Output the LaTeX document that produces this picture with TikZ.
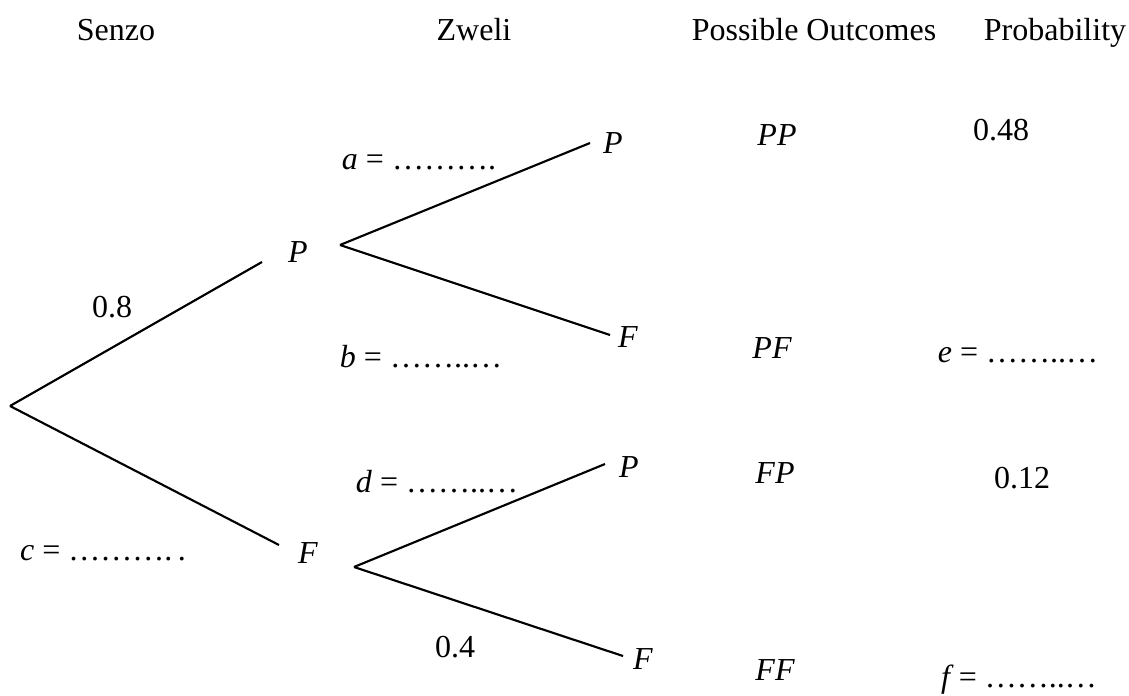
\documentclass[tikz,border=0pt]{standalone}
\usepackage{fontspec}
\setmainfont{Liberation Serif}
\usetikzlibrary{positioning}
\begin{document}
\begin{tikzpicture}[x=0.375pt, y=-0.375pt, font=\fontsize{12}{14}\selectfont,
    branch/.style={line width=0.8pt},
    lbl/.style={inner sep=0pt},
    head/.style={inner sep=0pt, anchor=base},
    itlbl/.style={inner sep=0pt, font=\fontsize{12}{14}\selectfont\itshape}]
  % canvas in pixels of the 1129 x 695 sheet, y grows downwards
  \useasboundingbox (0,0) rectangle (1129,695);
  % column headings
  \node[head] (hSenzo) at (116,41) {Senzo};
  \node[head] (hZweli) at (474,41) {Zweli};
  \node[head] (hOut) at (814,41) {Possible Outcomes};
  \node[head] (hProb) at (1055,41) {Probability};
  % first stage: Senzo
  \coordinate (root) at (10,406);
  \coordinate (sPin) at (262,262);
  \coordinate (sFin) at (279,545);
  \node[itlbl] (sP) at (298,252) {P};
  \node[itlbl] (sF) at (308,553) {F};
  \draw[branch] (root) -- (sPin);
  \draw[branch] (root) -- (sFin);
  \node[lbl] (pSP) at (112,307) {0.8};
  \node[lbl] (pSF) at (103,553) {\textit{c} = ……….\,.};
  % second stage: Zweli after P
  \coordinate (sPout) at (340,245);
  \coordinate (zPPin) at (590,143);
  \coordinate (zPFin) at (610,335);
  \node[itlbl] (zPP) at (613,143) {P};
  \node[itlbl] (zPF) at (628,337) {F};
  \draw[branch] (sPout) -- (zPPin);
  \draw[branch] (sPout) -- (zPFin);
  \node[lbl] (pPP) at (419,162) {\textit{a} = ……….};
  \node[lbl] (pPF) at (421,357) {\textit{b} = ……..…};
  % second stage: Zweli after F
  \coordinate (sFout) at (354,567);
  \coordinate (zFPin) at (605,464);
  \coordinate (zFFin) at (623,656);
  \node[itlbl] (zFP) at (629,467) {P};
  \node[itlbl] (zFF) at (643,659) {F};
  \draw[branch] (sFout) -- (zFPin);
  \draw[branch] (sFout) -- (zFFin);
  \node[lbl] (pFP) at (437,482) {\textit{d} = ……..…};
  \node[lbl] (pFF) at (455,647) {0.4};
  % outcomes
  \node[itlbl] (oPP) at (777,135) {PP};
  \node[itlbl] (oPF) at (772,348) {PF};
  \node[itlbl] (oFP) at (775,473) {FP};
  \node[itlbl] (oFF) at (775,670) {FF};
  % probabilities
  \node[lbl] (rPP) at (1001,130) {0.48};
  \node[lbl] (rPF) at (1018,355) {\textit{e} = ……..…};
  \node[lbl] (rFP) at (1022,478) {0.12};
  \node[lbl] (rFF) at (1019,680) {\textit{f}\,= ……..…};
\end{tikzpicture}
\end{document}
